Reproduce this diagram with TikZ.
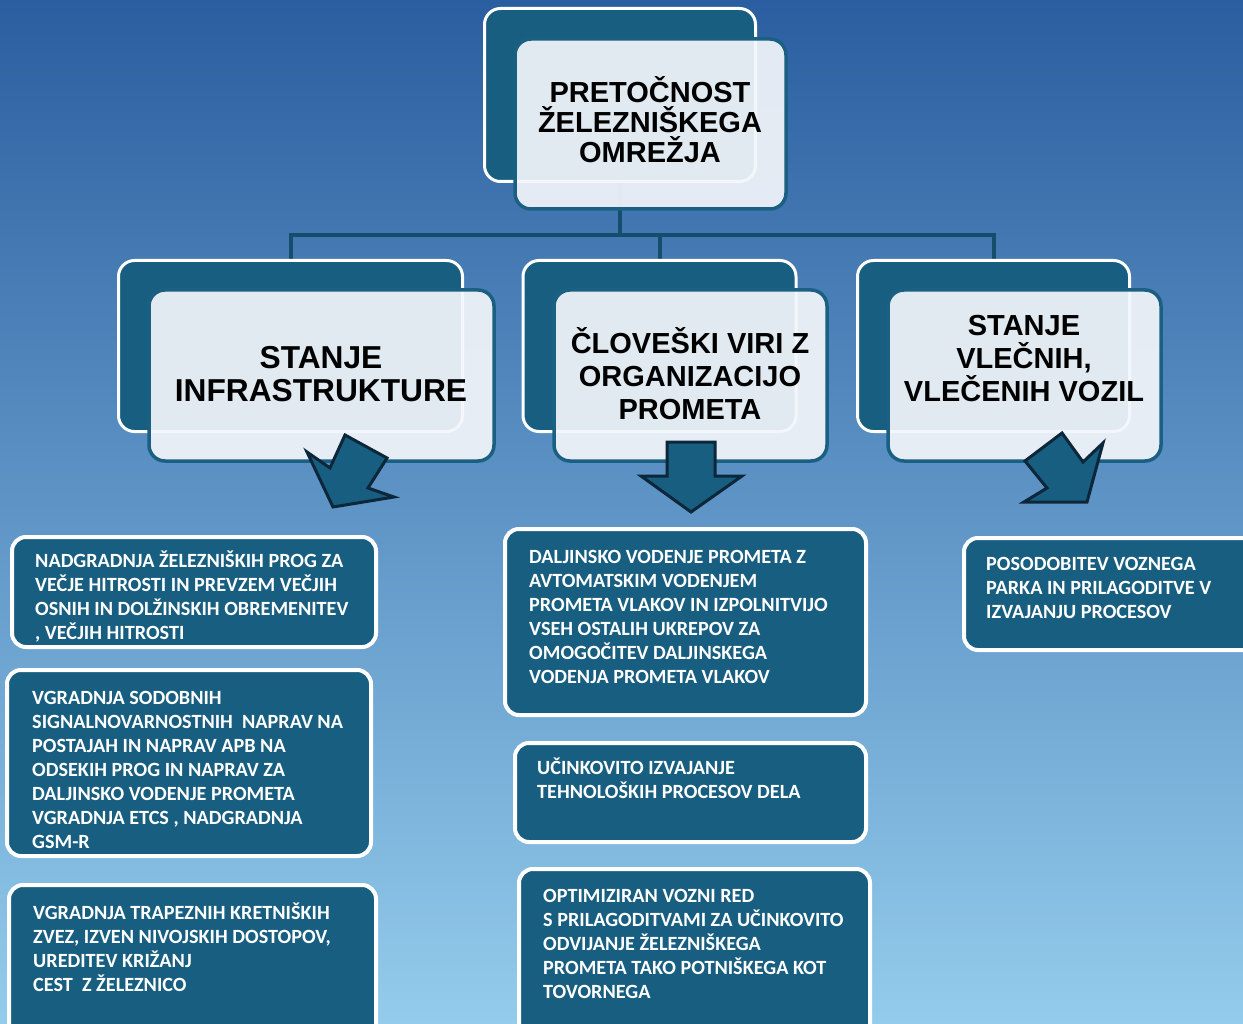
\documentclass[tikz,border=0pt]{standalone}
\usepackage{fontspec}
\setmainfont{Liberation Sans}
\newfontfamily\leaffont{Carlito}
\usetikzlibrary{calc}

\definecolor{bgtop}{RGB}{42,94,160}
\definecolor{bgmid}{RGB}{92,150,210}
\definecolor{bgbot}{RGB}{148,204,236}
\definecolor{boxteal}{RGB}{24,94,128}
\definecolor{frontfill}{RGB}{243,246,250}
\definecolor{frontedge}{RGB}{27,96,130}
\definecolor{connblue}{RGB}{20,78,108}
\definecolor{arrowedge}{RGB}{12,38,58}

\pgfdeclarelayer{bg}
\pgfsetlayers{bg,main}

\tikzset{
  backbox/.style={draw=white, line width=3pt, fill=boxteal, rounded corners=16pt, inner sep=0pt},
  frontbox/.style={draw=frontedge, line width=3.5pt, fill=frontfill, fill opacity=0.92, rounded corners=16pt, inner sep=0pt},
  headtext/.style={font=\bfseries\fontsize{29}{33}\selectfont, align=center, inner sep=0pt, text=black},
  leafbox/.style={draw=white, line width=4pt, fill=boxteal, rounded corners=14pt, inner sep=0pt},
  leaftext/.style={font=\leaffont\bfseries\fontsize{20.2}{24}\selectfont, text=white, align=left, anchor=north west, inner sep=0pt},
  conn/.style={draw=connblue, line width=4pt},
  pointer/.style={fill=boxteal, draw=arrowedge, line width=3pt, line join=miter}
}

\newcommand{\firstline}{\rule{0pt}{17pt}}

\begin{document}
\begin{tikzpicture}[x=1pt,y=-1pt]
\useasboundingbox (0,0) rectangle (1243,1024);
\clip (0,0) rectangle (1243,1024);

% ---- level 1
\node[backbox, minimum width=271, minimum height=173] (topback) at (620,95) {};
\node[frontbox, minimum width=271, minimum height=170] (topfront) at (650.5,124) {};
\node[headtext, font=\bfseries\fontsize{29}{30}\selectfont] (toptext) at (650,120) {PRETOČNOST\\ŽELEZNIŠKEGA\\OMREŽJA};

% ---- level 2
\node[backbox, minimum width=344, minimum height=171] (lback) at (290.5,346) {};
\node[frontbox, minimum width=345, minimum height=171] (lfront) at (321.5,375.5) {};
\node[headtext, font=\bfseries\fontsize{31.7}{33}\selectfont] (ltext) at (321,374) {STANJE\\INFRASTRUKTURE};

\node[backbox, minimum width=273, minimum height=171] (mback) at (659.5,346) {};
\node[frontbox, minimum width=273, minimum height=171] (mfront) at (690.5,375.5) {};
\node[headtext] (mtext) at (690,374) {ČLOVEŠKI VIRI Z\\ORGANIZACIJO\\PROMETA};

\node[backbox, minimum width=272, minimum height=171] (rback) at (993.5,346) {};
\node[frontbox, minimum width=273, minimum height=171] (rfront) at (1024.5,375.5) {};
\node[headtext] (rtext) at (1024,358.5) {STANJE\\VLEČNIH,\\VLEČENIH VOZIL};

% ---- tree connectors, drawn beneath the boxes
\coordinate (bus) at (620,235);
\begin{pgfonlayer}{bg}
  \fill[top color=bgtop, middle color=bgmid, bottom color=bgbot] (0,0) rectangle (1243,1024);
  \draw[conn] (topback.south) -- (topback.south |- bus);
  \draw[conn] (lback.north) -- (lback.north |- bus) -- (rback.north |- bus) -- (rback.north);
  \draw[conn] (mback.north) -- (mback.north |- bus);
\end{pgfonlayer}

% ---- block arrows
\draw[pointer] (345,435) -- (387,458) -- (368,488) -- (394,497) -- (333,507) -- (307,452) -- (330,468) -- cycle;
\draw[pointer] (667,442) -- (715,442) -- (715,476) -- (742,476) -- (691,512) -- (641,476) -- (667,476) -- cycle;
\draw[pointer] (1062,433) -- (1083,462) -- (1103,443) -- (1087,502) -- (1024,502) -- (1047,488) -- (1025,461) -- cycle;

% ---- left column
\node[leafbox, minimum width=364, minimum height=110] (l1) at (194,592) {};
\node[leaftext] (l1t) at (35,550.5) {\firstline NADGRADNJA ŽELEZNIŠKIH PROG ZA\\VEČJE HITROSTI IN PREVZEM VEČJIH\\OSNIH IN DOLŽINSKIH OBREMENITEV\\, VEČJIH HITROSTI};

\node[leafbox, minimum width=364, minimum height=186] (l2) at (189,763) {};
\node[leaftext] (l2t) at (32,687.5) {\firstline VGRADNJA SODOBNIH\\SIGNALNOVARNOSTNIH~ NAPRAV NA\\POSTAJAH IN NAPRAV APB NA\\ODSEKIH PROG IN NAPRAV ZA\\DALJINSKO VODENJE PROMETA\\VGRADNJA ETCS , NADGRADNJA\\GSM-R};

\node[leafbox, minimum width=367, minimum height=155] (l3) at (192.5,962.5) {};
\node[leaftext] (l3t) at (33,902.5) {\firstline VGRADNJA TRAPEZNIH KRETNIŠKIH\\ZVEZ, IZVEN NIVOJSKIH DOSTOPOV,\\UREDITEV KRIŽANJ\\CEST~ Z ŽELEZNICO};

% ---- middle column
\node[leafbox, minimum width=361, minimum height=186] (m1) at (685.5,622) {};
\node[leaftext] (m1t) at (529,546.5) {\firstline DALJINSKO VODENJE PROMETA Z\\AVTOMATSKIM VODENJEM\\PROMETA VLAKOV IN IZPOLNITVIJO\\VSEH OSTALIH UKREPOV ZA\\OMOGOČITEV DALJINSKEGA\\VODENJA PROMETA VLAKOV};

\node[leafbox, minimum width=351, minimum height=99] (m2) at (690.5,792.5) {};
\node[leaftext] (m2t) at (537,757.5) {\firstline UČINKOVITO IZVAJANJE\\TEHNOLOŠKIH PROCESOV DELA};

\node[leafbox, minimum width=351, minimum height=171] (m3) at (694.5,954.5) {};
\node[leaftext] (m3t) at (543,885.5) {\firstline OPTIMIZIRAN VOZNI RED\\S PRILAGODITVAMI ZA UČINKOVITO\\ODVIJANJE ŽELEZNIŠKEGA\\PROMETA TAKO POTNIŠKEGA KOT\\TOVORNEGA};

% ---- right column
\node[leafbox, minimum width=306, minimum height=112] (r1) at (1117,594) {};
\node[leaftext] (r1t) at (986,553.5) {\firstline POSODOBITEV VOZNEGA\\PARKA IN PRILAGODITVE V\\IZVAJANJU PROCESOV};
\end{tikzpicture}
\end{document}
